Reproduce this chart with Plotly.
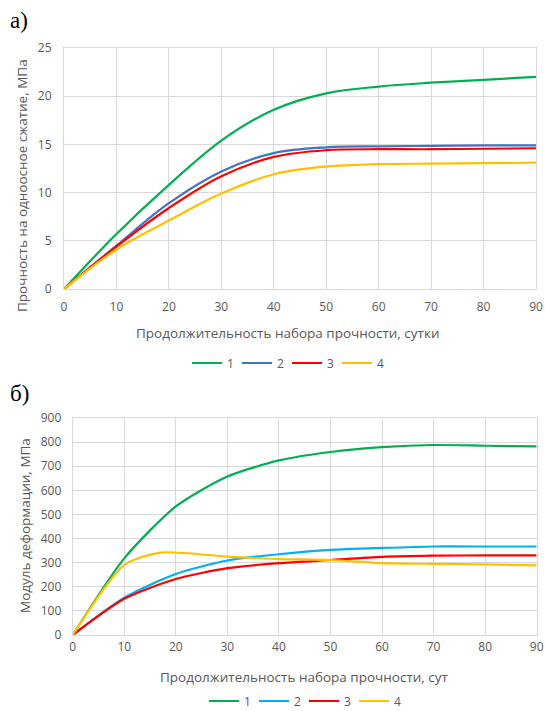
import plotly.graph_objects as go

# ---- data ----
days = [0, 10, 20, 30, 40, 50, 60, 70, 80, 90]
series_names = ["1", "2", "3", "4"]

# panel а) compressive strength, MPa
strength_1 = [0, 5.7, 10.8, 15.4, 18.6, 20.3, 21.0, 21.4, 21.7, 22.0]
strength_2 = [0, 4.5, 8.9, 12.2, 14.1, 14.7, 14.8, 14.85, 14.9, 14.9]
strength_3 = [0, 4.4, 8.4, 11.7, 13.7, 14.4, 14.5, 14.5, 14.55, 14.6]
strength_4 = [0, 4.1, 7.1, 9.9, 11.9, 12.7, 12.95, 13.0, 13.05, 13.1]

# panel б) deformation modulus, MPa
days_b4 = [0, 10, 17, 30, 40, 50, 60, 70, 80, 90]
modulus_1 = [0, 318, 533, 657, 724, 759, 779, 788, 785, 782]
modulus_2 = [0, 155, 253, 309, 335, 353, 361, 367, 367, 367]
modulus_3 = [0, 150, 232, 277, 298, 311, 324, 329, 330, 330]
modulus_4 = [0, 290, 342, 325, 315, 311, 298, 295, 293, 289]

top_colors = ["#00b050", "#4472c4", "#ff0000", "#ffc000"]
bot_colors = ["#00b050", "#00b0f0", "#ff0000", "#ffc000"]

x_ticks = list(range(0, 91, 10))
top_yticks = list(range(0, 26, 5))
bot_yticks = list(range(0, 901, 100))

W, H = 545, 711
GRID = "#d9d9d9"
TXT = "#595959"
FONT = "Open Sans, Liberation Sans, sans-serif"

fig = go.Figure()

top = [strength_1, strength_2, strength_3, strength_4]
for name, ys, c in zip(series_names, top, top_colors):
    fig.add_trace(go.Scatter(x=days, y=ys, name=name, mode="lines",
                             line=dict(color=c, width=2.2, shape="spline", smoothing=1.0),
                             xaxis="x", yaxis="y", legend="legend"))

bot = [(days, modulus_1), (days, modulus_2), (days, modulus_3), (days_b4, modulus_4)]
for name, (xs, ys), c in zip(series_names, bot, bot_colors):
    fig.add_trace(go.Scatter(x=xs, y=ys, name=name, mode="lines",
                             line=dict(color=c, width=2.2, shape="spline", smoothing=0.7),
                             xaxis="x2", yaxis="y2", legend="legend2"))

def px_x(p):
    return p / W

def px_y(p):
    return 1 - p / H

axis_common = dict(showgrid=True, gridcolor=GRID, gridwidth=1, zeroline=False,
                   showline=True, linecolor=GRID, linewidth=1, mirror=True,
                   tickfont=dict(family=FONT, size=12, color=TXT), automargin=False,
                   ticklabeloverflow="allow",
                   ticks="outside", tickcolor="rgba(0,0,0,0)", fixedrange=True)

fig.update_layout(
    width=W, height=H,
    margin=dict(l=0, r=0, t=0, b=0, autoexpand=False),
    paper_bgcolor="white", plot_bgcolor="white",
    font=dict(family=FONT, color=TXT),
    xaxis=dict(domain=[px_x(64), px_x(536)], range=[0, 90], tickvals=x_ticks,
               anchor="y", ticklen=7, **axis_common),
    yaxis=dict(domain=[px_y(289), px_y(48)], range=[0, 25], tickvals=top_yticks,
               anchor="x", ticklen=9, **axis_common),
    xaxis2=dict(domain=[px_x(72.7), px_x(536.7)], range=[0, 90], tickvals=x_ticks,
                anchor="y2", ticklen=1, **axis_common),
    yaxis2=dict(domain=[px_y(635), px_y(418)], range=[0, 900], tickvals=bot_yticks,
                anchor="x2", ticklen=8, **axis_common),
    legend=dict(orientation="h", x=px_x(287), xanchor="center", y=px_y(363), yanchor="middle",
                font=dict(family=FONT, size=12, color=TXT), bgcolor="rgba(0,0,0,0)",
                itemclick=False, entrywidth=5, entrywidthmode="pixels"),
    legend2=dict(orientation="h", x=px_x(304), xanchor="center", y=px_y(701), yanchor="middle",
                 font=dict(family=FONT, size=12, color=TXT), bgcolor="rgba(0,0,0,0)",
                 itemclick=False, entrywidth=5, entrywidthmode="pixels"),
    showlegend=True,
)

annots = [
    dict(text="а)", x=px_x(8), y=px_y(20), xanchor="left", yanchor="middle",
         font=dict(family="Liberation Serif, Times New Roman, serif", size=23, color="black")),
    dict(text="б)", x=px_x(8), y=px_y(393), xanchor="left", yanchor="middle",
         font=dict(family="Liberation Serif, Times New Roman, serif", size=23, color="black")),
    dict(text="Продолжительность набора прочности, сутки", x=px_x(288), y=px_y(333),
         xanchor="center", yanchor="middle", font=dict(family=FONT, size=13.5, color=TXT)),
    dict(text="Продолжительность набора прочности, сут", x=px_x(304), y=px_y(677),
         xanchor="center", yanchor="middle", font=dict(family=FONT, size=13.5, color=TXT)),
    dict(text="Прочность на одноосное сжатие, МПа", x=px_x(22), y=px_y(186), textangle=-90,
         xanchor="center", yanchor="middle", font=dict(family=FONT, size=13.5, color=TXT)),
    dict(text="Модуль деформации, МПа", x=px_x(25), y=px_y(526), textangle=-90,
         xanchor="center", yanchor="middle", font=dict(family=FONT, size=13.5, color=TXT)),
]
for a in annots:
    a.update(xref="paper", yref="paper", showarrow=False)
fig.update_layout(annotations=annots)

fig.write_html("out.html", config={"displayModeBar": False},
               post_script="document.body.style.margin='0';document.body.style.overflow='hidden';")
